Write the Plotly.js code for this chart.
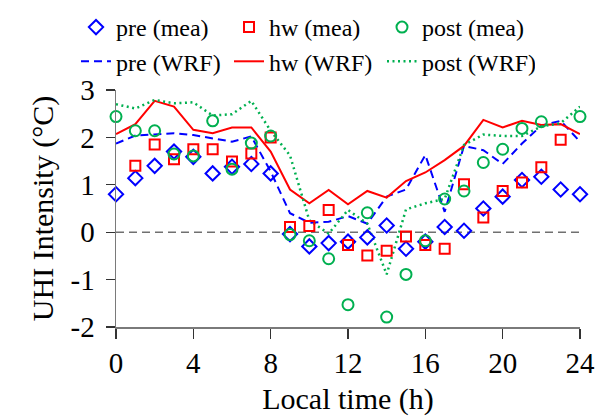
<!DOCTYPE html>
<html><head><meta charset="utf-8">
<script src="https://cdn.plot.ly/plotly-3.0.1.min.js"></script>
<style>html,body{margin:0;padding:0;background:#fff}#chart{width:602px;height:416px}</style>
</head><body><div id="chart"></div>
<script>
const hours = [0,1,2,3,4,5,6,7,8,9,10,11,12,13,14,15,16,17,18,19,20,21,22,23,24];
const preMea  = [0.80,1.14,1.40,1.70,1.59,1.24,1.38,1.44,1.24,-0.04,-0.30,-0.23,-0.20,-0.11,0.14,-0.35,-0.20,0.11,0.03,0.50,0.75,1.10,1.17,0.90,0.80];
const hwMea   = [null,1.40,1.85,1.54,1.75,1.75,1.49,1.66,2.00,0.11,0.13,0.47,-0.27,-0.49,-0.39,-0.09,-0.27,-0.35,1.01,0.31,0.87,1.05,1.37,1.95,null];
const postMea = [2.44,2.14,2.14,1.65,1.61,2.35,1.33,1.88,2.03,-0.05,-0.18,-0.56,-1.53,0.41,-1.79,-0.89,-0.18,0.70,0.87,1.47,1.75,2.19,2.33,null,2.44];
const preWRF  = [1.87,2.04,2.06,2.09,2.05,1.98,1.91,2.02,1.28,0.40,0.20,0.22,0.34,0.18,0.75,0.90,1.63,0.43,1.82,1.73,1.44,1.87,2.25,2.35,1.91];
const hwWRF   = [2.07,2.28,2.77,2.65,2.16,2.09,2.21,2.21,1.70,0.90,0.61,0.89,0.59,0.87,0.73,1.08,1.26,1.52,1.82,2.37,2.21,2.35,2.26,2.28,2.07];
const postWRF = [2.70,2.61,2.79,2.72,2.74,2.46,2.49,2.77,2.14,1.62,0.25,-0.03,0.47,0.18,-0.89,0.48,0.61,0.70,1.84,2.06,2.03,2.03,2.23,2.30,2.65];
const xTicks = [0,4,8,12,16,20,24];
const yTicks = [-2,-1,0,1,2,3];

const BLUE = '#0000FF', RED = '#FF0000', GREEN = '#00B050';
const FONT = 'Liberation Serif, Times New Roman, serif';

const traces = [
  {x: hours, y: preWRF, name: 'pre (WRF)', mode: 'lines', line: {color: BLUE, width: 2, dash: '8px,5px'}, legendrank: 4},
  {x: hours, y: hwWRF, name: 'hw (WRF)', mode: 'lines', line: {color: RED, width: 2}, legendrank: 5},
  {x: hours, y: postWRF, name: 'post (WRF)', mode: 'lines', line: {color: GREEN, width: 2.5, dash: '2px,3.5px'}, legendrank: 6},
  {x: hours, y: preMea, name: 'pre (mea)', mode: 'markers', marker: {symbol: 'diamond-open', size: 11, color: BLUE, line: {width: 2, color: BLUE}}, legendrank: 1},
  {x: hours, y: hwMea, name: 'hw (mea)', mode: 'markers', marker: {symbol: 'square-open', size: 10, color: RED, line: {width: 2, color: RED}}, legendrank: 2},
  {x: hours, y: postMea, name: 'post (mea)', mode: 'markers', marker: {symbol: 'circle-open', size: 11, color: GREEN, line: {width: 2, color: GREEN}}, legendrank: 3}
];
traces.forEach(t => { t.cliponaxis = false; t.connectgaps = false; });

const layout = {
  width: 602, height: 416,
  margin: {l: 116, r: 22, t: 90, b: 89, pad: 0},
  paper_bgcolor: '#fff', plot_bgcolor: '#fff',
  font: {family: FONT, size: 29, color: '#000'},
  showlegend: true,
  legend: {
    orientation: 'h', xref: 'container', yref: 'container',
    x: 76/602, y: 1 - 5/416, xanchor: 'left', yanchor: 'top',
    font: {family: FONT, size: 24, color: '#000'},
    entrywidth: 108, tracegroupgap: 0, itemwidth: 30,
    bgcolor: 'rgba(0,0,0,0)', borderwidth: 0
  },
  xaxis: {
    range: [0, 24], tickvals: xTicks, ticktext: xTicks.map(String),
    showgrid: false, zeroline: false, showline: true, linecolor: '#7a7a7a', linewidth: 1.5,
    ticks: 'outside', ticklen: 10, tickwidth: 1.2, tickcolor: '#333',
    ticklabelstandoff: 0,
    tickfont: {family: FONT, size: 29},
    title: {text: 'Local time (h)', font: {family: FONT, size: 30}, standoff: 10}
  },
  yaxis: {
    range: [-2, 3], tickvals: yTicks, ticktext: yTicks.map(String),
    showgrid: false, zeroline: false, showline: true, linecolor: '#7a7a7a', linewidth: 1.5,
    ticks: 'outside', ticklen: 9, tickwidth: 1.2, tickcolor: '#333',
    ticklabelstandoff: 5,
    tickfont: {family: FONT, size: 29},
    title: {text: 'UHI Intensity (°C)', font: {family: FONT, size: 30}, standoff: 8}
  },
  shapes: [{type: 'line', xref: 'x', yref: 'y', x0: 0, x1: 24, y0: 0, y1: 0,
    line: {color: '#707070', width: 1.5, dash: '8px,5px'}, layer: 'below'}]
};
Plotly.newPlot('chart', traces, layout, {staticPlot: true, displayModeBar: false});
</script></body></html>
